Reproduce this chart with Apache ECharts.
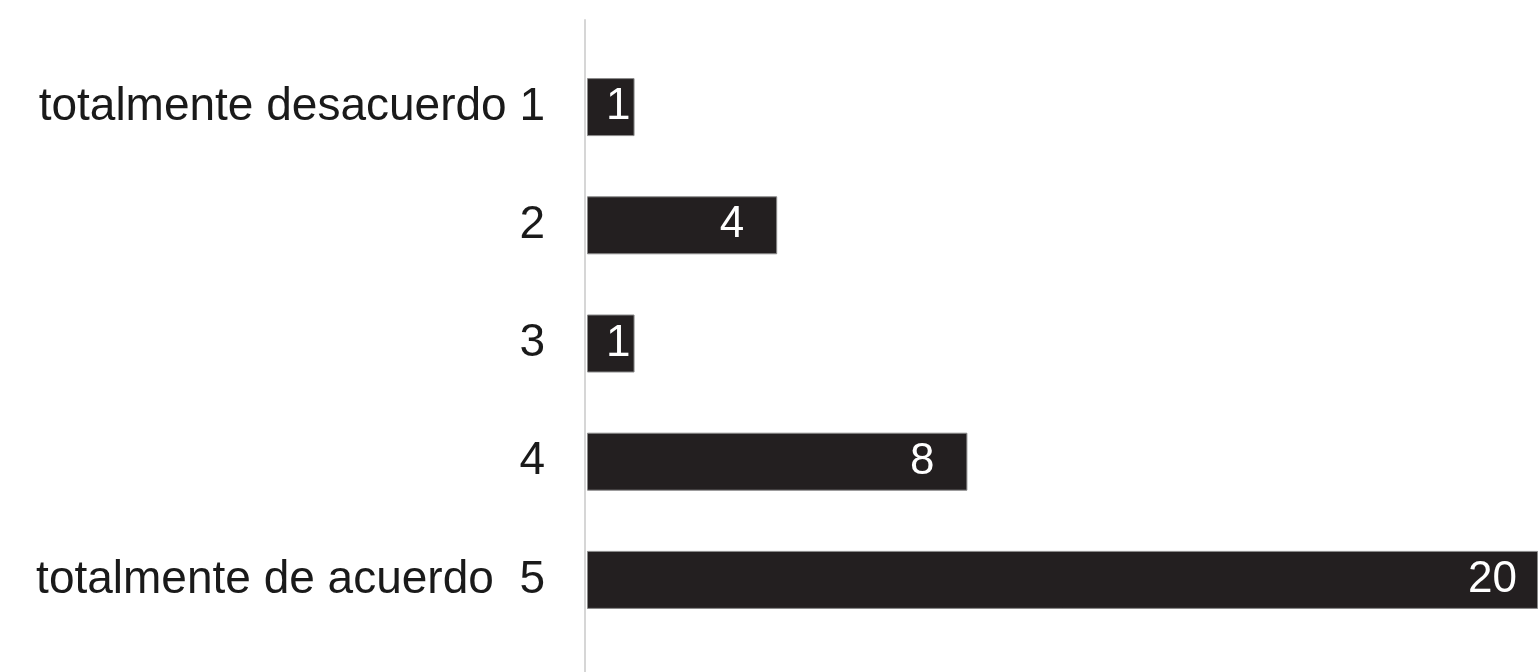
<!DOCTYPE html>
<html>
<head>
<meta charset="utf-8">
<script src="https://cdn.jsdelivr.net/npm/echarts@6/dist/echarts.min.js"></script>
<style>
html,body{margin:0;padding:0;background:#fff;}
#chart{width:1538px;height:672px;}
</style>
</head>
<body>
<div id="chart"></div>
<script>
const categories = ['totalmente desacuerdo 1', '2', '3', '4', 'totalmente de acuerdo  5'];
const values = [1, 4, 1, 8, 20];

function labelDistance(v) {
  if (v <= 1) return 4;
  return String(v).length > 1 ? 21 : 33;
}

const chart = echarts.init(document.getElementById('chart'), null, {renderer: 'canvas'});
chart.setOption({
  backgroundColor: '#ffffff',
  animation: false,
  grid: [
    {left: 587, right: 0, top: 48, bottom: 33, containLabel: false},
    {left: 585, right: 0, top: 20, bottom: 0, containLabel: false}
  ],
  xAxis: [
    {gridIndex: 0, type: 'value', min: 0, max: 20, show: false},
    {gridIndex: 1, type: 'value', min: 0, max: 1, show: false}
  ],
  yAxis: [
    {
      gridIndex: 0, type: 'category', data: categories, inverse: true,
      axisLine: {show: false}, axisTick: {show: false},
      axisLabel: {
        margin: 42, color: '#1a1a1a', fontSize: 46,
        fontFamily: 'Liberation Sans, Arial, sans-serif'
      }
    },
    {
      gridIndex: 1, type: 'value', min: 0, max: 1,
      axisLine: {show: true, lineStyle: {color: '#d6d6d6', width: 2}},
      axisTick: {show: false}, axisLabel: {show: false}, splitLine: {show: false}
    }
  ],
  series: [{
    type: 'bar',
    xAxisIndex: 0, yAxisIndex: 0,
    data: values.map(v => ({value: v, label: {distance: labelDistance(v)}})),
    barWidth: 58,
    itemStyle: {color: '#231f20', borderColor: '#8a8a8a', borderWidth: 1},
    label: {
      show: true, position: 'insideRight',
      color: '#ffffff', fontSize: 44,
      fontFamily: 'Liberation Sans, Arial, sans-serif'
    }
  }]
});
</script>
</body>
</html>
